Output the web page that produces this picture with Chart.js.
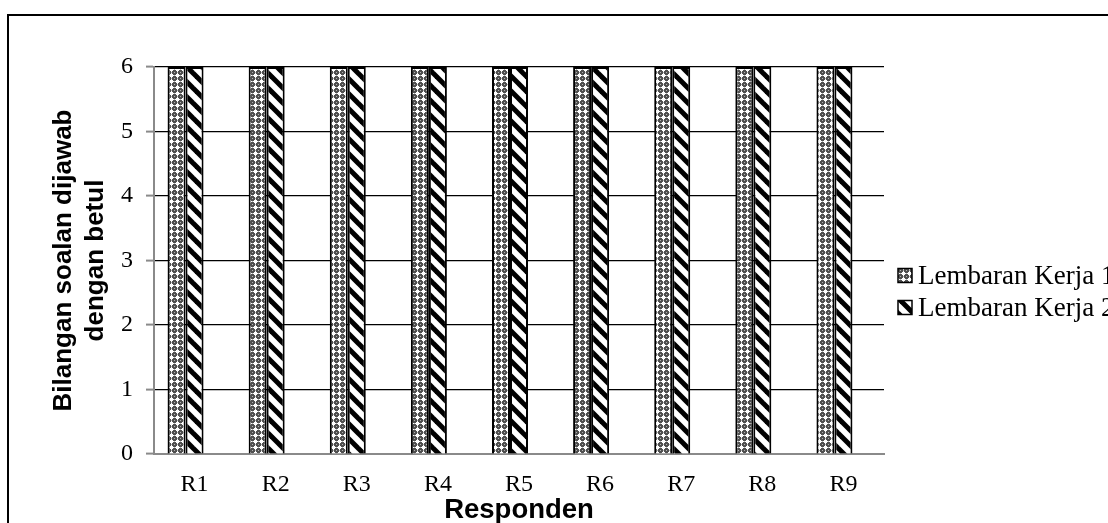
<!DOCTYPE html>
<html>
<head>
<meta charset="utf-8">
<script src="https://cdn.jsdelivr.net/npm/chart.js@4.4.1/dist/chart.umd.min.js"></script>
<style>
  html, body { margin: 0; padding: 0; background: #fff; overflow: hidden; width: 1108px; height: 523px; }
  #wrap { position: absolute; left: 0; top: 0; width: 1108px; height: 523px; }
  #frame { position: absolute; left: 7px; top: 14px; width: 1300px; height: 700px; border: 2px solid #000; pointer-events: none; }
</style>
</head>
<body>
<div id="wrap"><canvas id="c" width="1108" height="523"></canvas></div>
<div id="frame"></div>
<script>
const categories = ['R1','R2','R3','R4','R5','R6','R7','R8','R9'];
const seriesNames = ['Lembaran Kerja 1', 'Lembaran Kerja 2'];
const lembaran1 = [6, 6, 6, 6, 6, 6, 6, 6, 6];
const lembaran2 = [6, 6, 6, 6, 6, 6, 6, 6, 6];
const blankSeries = [null, null, null, null, null, null, null, null, null];
const yTicks = [0, 1, 2, 3, 4, 5, 6];
const xTitle = 'Responden';
const yTitle = ['Bilangan soalan dijawab', 'dengan betul'];

function makeDotPattern() {
  const t = document.createElement('canvas');
  t.width = 6; t.height = 6;
  const g = t.getContext('2d');
  g.fillStyle = '#505050';
  g.fillRect(0, 0, 6, 6);
  g.fillStyle = '#ffffff';
  [[3,1],[2,2],[3,2],[4,2],[1,3],[2,3],[3,3],[4,3],[5,3],[2,4],[3,4],[4,4],[3,5]].forEach(p => g.fillRect(p[0], p[1], 1, 1));
  g.fillStyle = '#b0b0b0';
  [[0,0],[0,3],[3,0]].forEach(p => g.fillRect(p[0], p[1], 1, 1));
  return g.createPattern(t, 'repeat');
}
function makeStripePattern() {
  const s = 15;
  const t = document.createElement('canvas');
  t.width = s; t.height = s;
  const g = t.getContext('2d');
  g.fillStyle = '#fff';
  g.fillRect(0, 0, s, s);
  g.strokeStyle = '#000';
  g.lineWidth = 5;
  for (let k = -1; k <= 1; k++) {
    g.beginPath();
    g.moveTo(-2, k * s - 2);
    g.lineTo(s + 2, s + k * s + 2);
    g.stroke();
  }
  return g.createPattern(t, 'repeat');
}
const pat1 = makeDotPattern();
const pat2 = makeStripePattern();

const legendPlugin = {
  id: 'sideLegend',
  afterDraw(chart) {
    const ctx = chart.ctx;
    const a = chart.chartArea;
    const cy = (a.top + a.bottom) / 2;
    const rows = [cy + 15, cy + 47];
    ctx.save();
    ctx.font = '27px "Liberation Serif", "Times New Roman", serif';
    ctx.textBaseline = 'middle';
    ctx.fillStyle = '#000';
    [0, 1].forEach(i => {
      const ds = chart.data.datasets[i];
      const bx = a.right + 14, by = rows[i] - 7;
      ctx.fillStyle = ds.backgroundColor;
      ctx.fillRect(bx, by, 14, 14);
      ctx.strokeStyle = '#000';
      ctx.lineWidth = 1.5;
      ctx.strokeRect(bx, by, 14, 14);
      ctx.fillStyle = '#000';
      ctx.fillText(ds.label, a.right + 34, rows[i] + 1);
    });
    ctx.restore();
  }
};

new Chart(document.getElementById('c'), {
  type: 'bar',
  data: {
    labels: categories,
    datasets: [
      { label: seriesNames[0], data: lembaran1, backgroundColor: pat1, borderColor: '#000', borderWidth: 2 },
      { label: seriesNames[1], data: lembaran2, backgroundColor: pat2, borderColor: '#000', borderWidth: 2 },
      { label: '', data: blankSeries, backgroundColor: 'rgba(0,0,0,0)', borderWidth: 0 }
    ]
  },
  options: {
    responsive: false,
    animation: false,
    devicePixelRatio: 1,
    layout: { padding: { left: 0, top: 67, right: 224, bottom: 0 } },
    datasets: { bar: { categoryPercentage: 0.666, barPercentage: 1.0 } },
    plugins: { legend: { display: false }, tooltip: { enabled: false }, title: { display: false } },
    scales: {
      x: {
        afterFit(scale) { scale.height = 69; },
        grid: { display: false, drawTicks: false },
        border: { display: true, color: '#8a8a8a', width: 2 },
        ticks: { color: '#000', padding: 16, font: { family: '"Liberation Serif", "Times New Roman", serif', size: 24 } },
        title: { display: true, text: xTitle, color: '#000', padding: { top: 0, bottom: 0 },
                 font: { family: '"Liberation Sans", Arial, sans-serif', size: 27.5, weight: 'bold', lineHeight: 0.95 } }
      },
      y: {
        min: 0, max: 6,
        afterFit(scale) { scale.width = 154; },
        afterBuildTicks(scale) { scale.ticks = yTicks.map(v => ({ value: v })); },
        grid: { color: '#000', lineWidth: 1.2, tickColor: '#8a8a8a', tickLength: 8, tickWidth: 2 },
        border: { display: true, color: '#8a8a8a', width: 2 },
        ticks: { color: '#000', padding: 13, font: { family: '"Liberation Serif", "Times New Roman", serif', size: 24 } },
        title: { display: true, text: yTitle, color: '#000', padding: { top: 48, bottom: 0 },
                 font: { family: '"Liberation Sans", Arial, sans-serif', size: 26, weight: 'bold', lineHeight: 1.23 } }
      }
    }
  },
  plugins: [legendPlugin]
});
</script>
</body>
</html>
